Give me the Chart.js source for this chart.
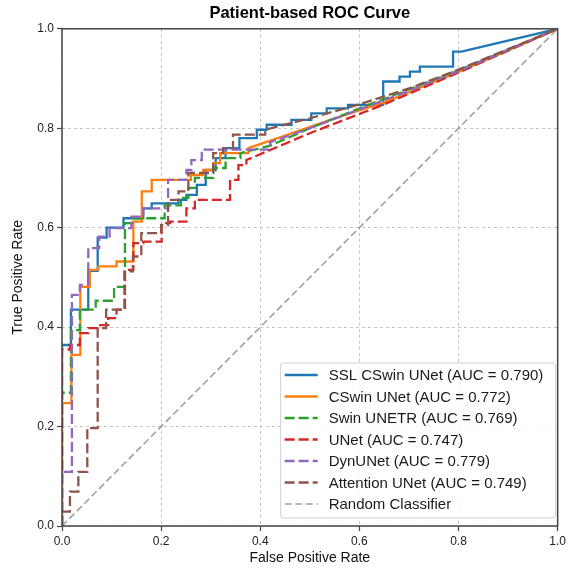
<!DOCTYPE html>
<html>
<head>
<meta charset="utf-8">
<script src="https://cdn.jsdelivr.net/npm/chart.js@4.4.1/dist/chart.umd.min.js"></script>
<style>
html,body{margin:0;padding:0;background:#fff;}
#wrap{width:569px;height:568px;}
</style>
</head>
<body>
<div id="wrap"><canvas id="roc" width="569" height="568"></canvas></div>
<script>
/* DATA */
const tickValues = [0, 0.2, 0.4, 0.6, 0.8, 1.0];
const tickLabels = ["0.0", "0.2", "0.4", "0.6", "0.8", "1.0"];

const modelNames = ["SSL CSwin UNet", "CSwin UNet", "Swin UNETR", "UNet", "DynUNet", "Attention UNet"];
const aucValues = [0.790, 0.772, 0.769, 0.747, 0.779, 0.749];

const sslFpr = [0,0,0.018,0.018,0.053,0.053,0.072,0.072,0.09,0.09,0.124,0.124,0.164,0.164,0.181,0.181,0.235,0.235,0.251,0.251,0.272,0.272,0.29,0.29,0.31,0.31,0.33,0.33,0.358,0.358,0.393,0.393,0.413,0.413,0.463,0.463,0.503,0.503,0.534,0.534,0.577,0.577,0.648,0.648,0.681,0.681,0.702,0.702,0.722,0.722,0.789,0.789,0.806,1];
const sslTpr = [0,0.364,0.364,0.435,0.435,0.513,0.513,0.58,0.58,0.60,0.60,0.619,0.619,0.639,0.639,0.649,0.649,0.656,0.656,0.666,0.666,0.686,0.686,0.716,0.716,0.74,0.74,0.76,0.76,0.78,0.78,0.797,0.797,0.807,0.807,0.817,0.817,0.83,0.83,0.84,0.84,0.847,0.847,0.894,0.894,0.904,0.904,0.914,0.914,0.924,0.924,0.954,0.954,1];

const cswinFpr = [0,0,0.019,0.019,0.037,0.037,0.056,0.056,0.073,0.073,0.11,0.11,0.144,0.144,0.161,0.161,0.181,0.181,0.26,0.26,0.285,0.285,0.305,0.305,0.319,0.319,0.376,0.376,0.45,0.55,0.65,0.8,1];
const cswinTpr = [0,0.247,0.247,0.344,0.344,0.481,0.481,0.515,0.515,0.522,0.522,0.532,0.532,0.612,0.612,0.673,0.673,0.696,0.696,0.706,0.706,0.716,0.716,0.73,0.73,0.75,0.75,0.76,0.785,0.82,0.852,0.913,1];

const swinFpr = [0,0,0.018,0.018,0.036,0.036,0.068,0.068,0.105,0.105,0.127,0.127,0.143,0.143,0.207,0.207,0.24,0.24,0.255,0.255,0.268,0.268,0.305,0.305,0.33,0.33,0.36,0.36,0.42,0.5,0.6,0.7,0.8,1];
const swinTpr = [0,0.268,0.268,0.394,0.394,0.435,0.435,0.453,0.453,0.481,0.481,0.609,0.609,0.619,0.619,0.645,0.645,0.66,0.66,0.68,0.68,0.70,0.70,0.72,0.72,0.74,0.74,0.75,0.765,0.80,0.84,0.878,0.917,1];

const unetFpr = [0,0,0.016,0.016,0.036,0.036,0.053,0.053,0.073,0.073,0.093,0.093,0.11,0.11,0.127,0.127,0.144,0.144,0.164,0.164,0.201,0.201,0.218,0.218,0.251,0.251,0.268,0.268,0.339,0.339,0.356,0.356,0.372,0.372,0.5,0.65,0.8,1];
const unetTpr = [0,0.355,0.355,0.364,0.364,0.388,0.388,0.398,0.398,0.404,0.404,0.418,0.418,0.435,0.435,0.515,0.515,0.569,0.569,0.572,0.572,0.609,0.609,0.612,0.612,0.639,0.639,0.656,0.656,0.696,0.696,0.726,0.726,0.736,0.79,0.848,0.912,1];

const dynFpr = [0,0,0.02,0.02,0.036,0.036,0.053,0.053,0.075,0.075,0.096,0.096,0.14,0.14,0.164,0.164,0.214,0.214,0.251,0.251,0.261,0.261,0.282,0.282,0.42,0.42,0.5,0.6,0.7,0.8,1];
const dynTpr = [0,0.109,0.109,0.465,0.465,0.485,0.485,0.559,0.559,0.582,0.582,0.599,0.599,0.622,0.622,0.639,0.639,0.696,0.696,0.716,0.716,0.736,0.736,0.757,0.757,0.772,0.80,0.838,0.875,0.915,1];

const attnFpr = [0,0,0.016,0.016,0.033,0.033,0.051,0.051,0.072,0.072,0.089,0.089,0.126,0.126,0.143,0.143,0.16,0.16,0.2,0.2,0.214,0.214,0.235,0.235,0.255,0.255,0.305,0.305,0.325,0.325,0.345,0.345,0.41,0.41,0.5,0.6,0.7,0.8,1];
const attnTpr = [0,0.029,0.029,0.069,0.069,0.109,0.109,0.197,0.197,0.398,0.398,0.435,0.435,0.512,0.512,0.542,0.542,0.589,0.589,0.605,0.605,0.656,0.656,0.673,0.673,0.71,0.71,0.75,0.75,0.76,0.76,0.787,0.787,0.797,0.82,0.848,0.88,0.918,1];

const randomFpr = [0, 1];
const randomTpr = [0, 1];

/* STYLE */
const FONT = "'Liberation Sans', Arial, sans-serif";
const colors = ["#1f77b4", "#ff7f0e", "#2ca02c", "#d62728", "#9467bd", "#8c564b"];
const dashes = [[], [], [10, 4], [10, 4], [10, 4], [10, 4]];
const curves = [[sslFpr, sslTpr], [cswinFpr, cswinTpr], [swinFpr, swinTpr],
                [unetFpr, unetTpr], [dynFpr, dynTpr], [attnFpr, attnTpr]];

const toPoints = (xs, ys) => xs.map((x, i) => ({x: x, y: ys[i]}));

const datasets = curves.map((c, i) => ({
  label: modelNames[i] + " (AUC = " + aucValues[i].toFixed(3) + ")",
  data: toPoints(c[0], c[1]),
  borderColor: colors[i],
  borderWidth: 2.3,
  borderDash: dashes[i],
  order: 10 - i
}));
datasets.push({
  label: "Random Classifier",
  data: toPoints(randomFpr, randomTpr),
  borderColor: "rgba(128,128,128,0.75)",
  borderWidth: 1.6,
  borderDash: [7, 3.5],
  order: 1
});

/* FRAME (all four spines) */
const framePlugin = {
  id: "frame",
  afterDatasetsDraw(chart) {
    const {ctx, chartArea: a} = chart;
    ctx.save();
    ctx.strokeStyle = "#444";
    ctx.lineWidth = 1.5;
    ctx.strokeRect(a.left, a.top, a.right - a.left, a.bottom - a.top);
    ctx.restore();
  }
};

/* LEGEND (lower right, inside axes) */
const legendPlugin = {
  id: "boxLegend",
  afterDraw(chart) {
    const {ctx, chartArea: a} = chart;
    const w = 275, h = 155, rowH = 21.5;
    const left = a.right - 2 - w, top = a.bottom - 8 - h;
    ctx.save();
    ctx.beginPath();
    const r = 3;
    ctx.moveTo(left + r, top);
    ctx.arcTo(left + w, top, left + w, top + h, r);
    ctx.arcTo(left + w, top + h, left, top + h, r);
    ctx.arcTo(left, top + h, left, top, r);
    ctx.arcTo(left, top, left + w, top, r);
    ctx.closePath();
    ctx.fillStyle = "rgba(255,255,255,0.85)";
    ctx.fill();
    ctx.strokeStyle = "#d0d0d0";
    ctx.lineWidth = 1;
    ctx.stroke();
    ctx.font = "15px " + FONT;
    ctx.textBaseline = "middle";
    ctx.fillStyle = "#1a1a1a";
    chart.data.datasets.forEach((ds, i) => {
      const y = top + 12 + i * rowH;
      ctx.beginPath();
      ctx.setLineDash(ds.borderDash || []);
      ctx.strokeStyle = ds.borderColor;
      ctx.lineWidth = ds.borderWidth;
      ctx.moveTo(left + 4, y);
      ctx.lineTo(left + 37, y);
      ctx.stroke();
      ctx.setLineDash([]);
      ctx.fillText(ds.label, left + 48, y + 1);
    });
    ctx.restore();
  }
};

const axisCommon = {
  type: "linear",
  min: 0,
  max: 1,
  afterBuildTicks: s => { s.ticks = tickValues.map(v => ({value: v})); },
  ticks: {
    autoSkip: false,
    maxRotation: 0,
    padding: 3,
    color: "#222",
    font: {family: FONT, size: 12},
    callback: (v) => tickLabels[tickValues.indexOf(v)]
  },
  grid: {
    color: "#c4c4c4",
    lineWidth: 1,
    tickLength: 5,
    tickColor: "#444",
    tickWidth: 1.2,
    tickBorderDash: []
  },
  border: {display: false, dash: [3, 3]}
};

new Chart(document.getElementById("roc"), {
  type: "scatter",
  data: {datasets: datasets},
  options: {
    responsive: false,
    animation: false,
    devicePixelRatio: 1,
    showLine: true,
    elements: {
      point: {radius: 0, hoverRadius: 0},
      line: {tension: 0, fill: false}
    },
    layout: {padding: {left: 0, right: 11, top: 0, bottom: 0}},
    plugins: {
      legend: {display: false},
      tooltip: {enabled: false},
      title: {
        display: true,
        fullSize: false,
        text: "Patient-based ROC Curve",
        color: "#000",
        font: {family: FONT, size: 16.5, weight: "bold"},
        padding: {top: 4, bottom: 5}
      }
    },
    scales: {
      x: Object.assign({}, axisCommon, {
        afterFit: s => { s.height = 42; },
        title: {
          display: true,
          text: "False Positive Rate",
          color: "#111",
          font: {family: FONT, size: 14},
          padding: {top: 0, bottom: 1}
        }
      }),
      y: Object.assign({}, axisCommon, {
        afterFit: s => { s.width = 62; },
        title: {
          display: true,
          text: "True Positive Rate",
          color: "#111",
          font: {family: FONT, size: 14},
          padding: {top: 10, bottom: 0}
        }
      })
    }
  },
  plugins: [framePlugin, legendPlugin]
});
</script>
</body>
</html>
